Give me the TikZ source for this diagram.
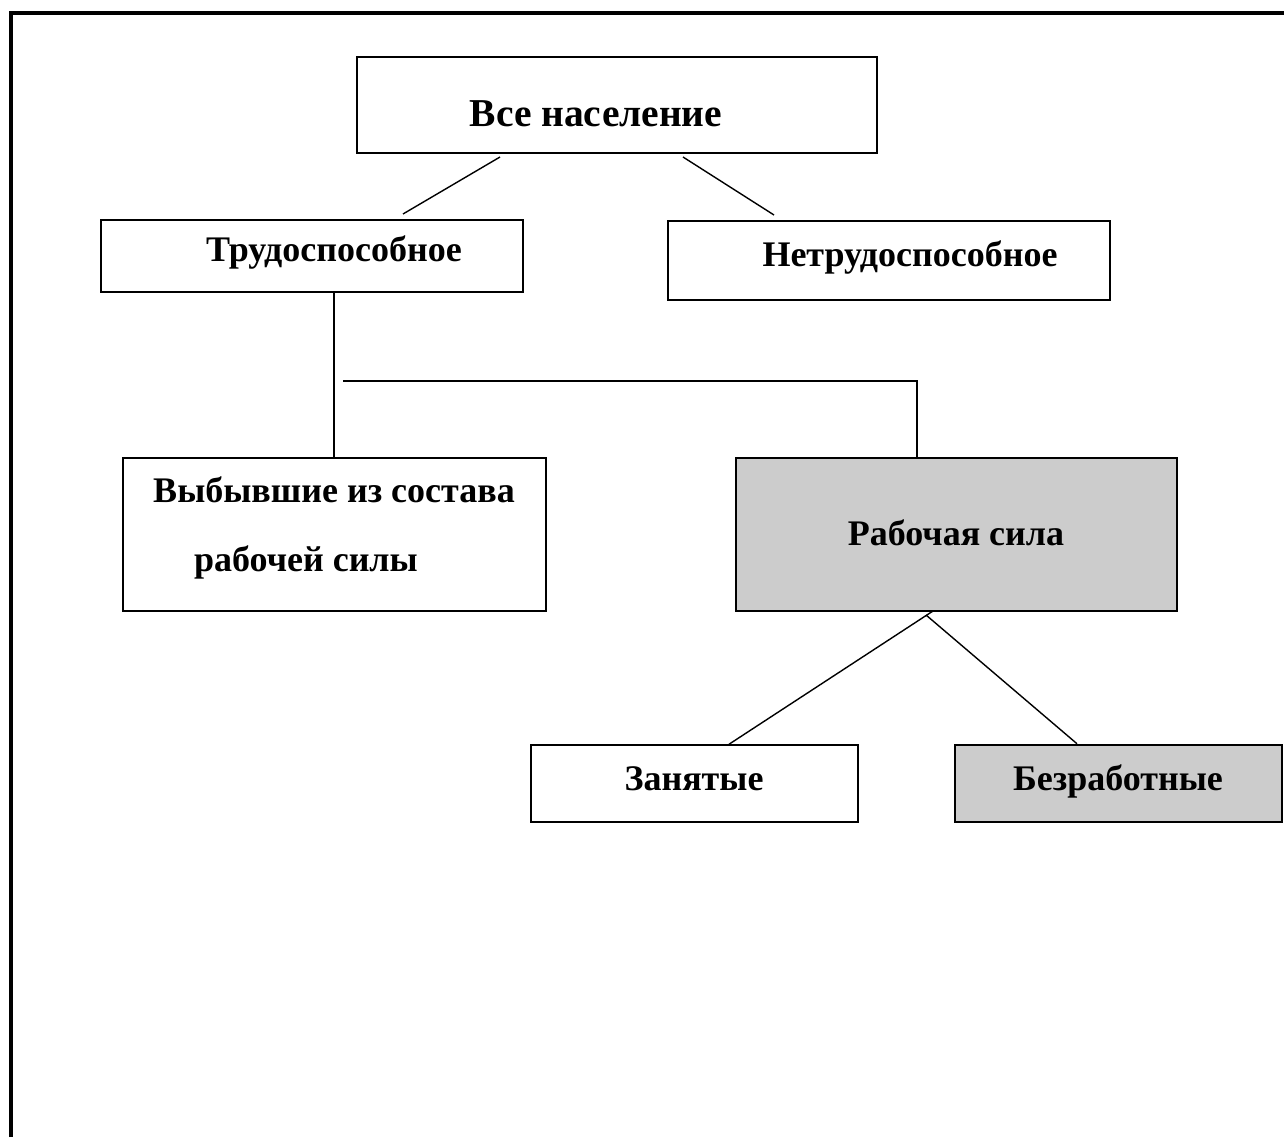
\documentclass[tikz,border=0pt]{standalone}
\usepackage{fontspec}
\setmainfont{Liberation Serif}
\usepackage{tikz}
\usetikzlibrary{positioning,calc}
\definecolor{boxgray}{HTML}{CCCCCC}

\begin{document}
\begin{tikzpicture}[x=1pt, y=-1pt,
    box/.style={draw=black, line width=1.5pt, rectangle, inner sep=0pt},
    graybox/.style={box, fill=boxgray},
    lbl/.style={font=\fontsize{36}{43}\selectfont\bfseries, anchor=base, inner sep=0pt},
    link/.style={line width=1.4pt}
]
    \useasboundingbox (0,0) rectangle (1284,1137);

    % Frame
    \draw[line width=3.5pt] (11,1137) -- (11,13) -- (1284,13);

    % Boxes
    \node[box, minimum width=520pt, minimum height=96pt] (all) at (617,105) {};
    \node[box, minimum width=422pt, minimum height=72pt] (able) at (312,256) {};
    \node[box, minimum width=442pt, minimum height=79pt] (unable) at (889,260.5) {};
    \node[box, minimum width=423pt, minimum height=153pt] (outside) at (334.5,534.5) {};
    \node[graybox, minimum width=441pt, minimum height=153pt] (labour) at (956.5,534.5) {};
    \node[box, minimum width=327pt, minimum height=77pt] (employed) at (694.5,783.5) {};
    \node[graybox, line width=2.5pt, minimum width=327pt, minimum height=77pt] (unemployed) at (1118.5,783.5) {};

    % Labels
    \node[lbl, font=\fontsize{39.5}{47}\selectfont\bfseries] (allT) at (596,126) {Все население};
    \node[lbl] (ableT) at (334,261) {Трудоспособное};
    \node[lbl] (unableT) at (910,266) {Нетрудоспособное};
    \node[lbl] (outsideT1) at (334,502) {Выбывшие из состава};
    \node[lbl] (outsideT2) at (306,571) {рабочей силы};
    \node[lbl] (labourT) at (956,545) {Рабочая сила};
    \node[lbl] (employedT) at (694,790) {Занятые};
    \node[lbl] (unemployedT) at (1118,790) {Безработные};

    % Connector ends
    \coordinate (a1) at (500,157);
    \coordinate (a2) at (403,214);
    \coordinate (b1) at (683,157);
    \coordinate (b2) at (774,215);
    \coordinate (h1) at (343,381);
    \coordinate (h2) at (917,381);
    \coordinate (r1) at (933,611);
    \coordinate (r2) at (926,615);

    % Connectors
    \draw[link] (a1) -- (a2);
    \draw[link] (b1) -- (b2);
    \draw[link] (able.south -| 334,0) -- (outside.north -| 334,0);
    \draw[link] (h1) -- (h2) -- (labour.north -| h2);
    \draw[link] (employed.north -| 729,0) -- (r1);
    \draw[link] (r2) -- (unemployed.north -| 1077,0);
\end{tikzpicture}
\end{document}
